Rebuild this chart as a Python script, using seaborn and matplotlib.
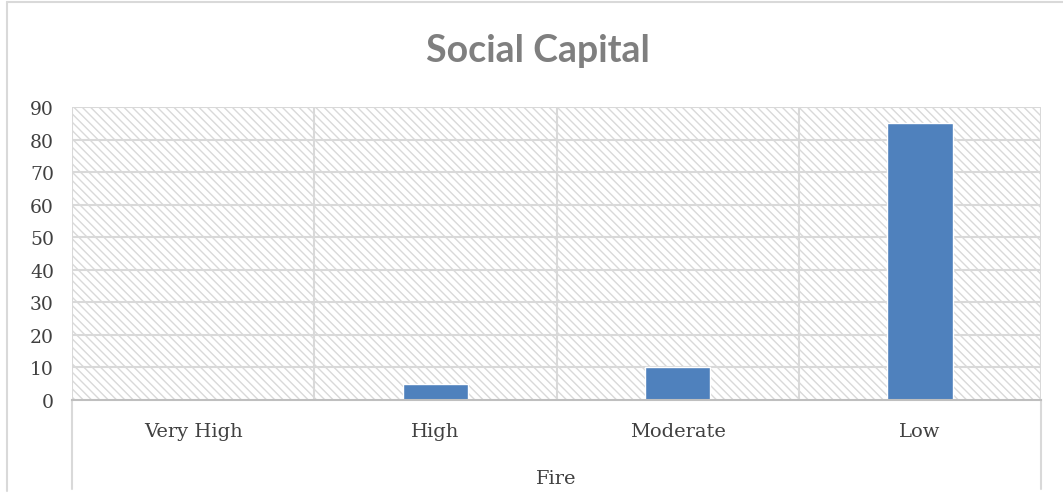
import matplotlib
matplotlib.use("Agg")
import matplotlib.pyplot as plt
from matplotlib.lines import Line2D
import seaborn as sns
import pandas as pd

categories = ["Very High", "High", "Moderate", "Low"]
values = [0, 5, 10, 85]
group_label = "Fire"
title = "Social Capital"
yticks = [0, 10, 20, 30, 40, 50, 60, 70, 80, 90]

sns.set_theme(style="white")
plt.rcParams["hatch.color"] = "#d9d9d9"
plt.rcParams["hatch.linewidth"] = 1.0

df = pd.DataFrame({"cat": categories, "val": values})

fig = plt.figure(figsize=(10.63, 5.02), dpi=100)
ax = fig.add_axes([72/1063, 101/502, (1041-72)/1063, 293/502])

# hatched background
ax.patch.set_facecolor("white")
ax.patch.set_hatch("\\\\\\\\")
ax.patch.set_edgecolor("#d9d9d9")
ax.patch.set_linewidth(0)

sns.barplot(data=df, x="cat", y="val", color="#4f81bd", width=0.27,
            saturation=1, ax=ax, zorder=3)

font = "DejaVu Serif"
ax.set_ylim(0, 90)
ax.set_xlim(-0.5, len(categories) - 0.5)
ax.set_yticks(yticks)
ax.set_yticklabels([str(t) for t in yticks], fontfamily=font,
                   fontsize=13.5, color="#404040")
ax.set_xticks(range(len(categories)))
ax.set_xticklabels(categories, fontfamily=font, fontsize=14,
                   color="#404040")
ax.tick_params(axis="both", length=0)
ax.tick_params(axis="x", pad=16)
ax.tick_params(axis="y", pad=13)
ax.set_xlabel("")
ax.set_ylabel("")

for s in ["left", "top", "right"]:
    ax.spines[s].set_visible(False)
ax.spines["bottom"].set_color("#bfbfbf")
ax.spines["bottom"].set_linewidth(1.5)
ax.spines["bottom"].set_zorder(4)

for t in yticks[1:]:
    ax.axhline(t, color="#d9d9d9", lw=1.5, zorder=1)
for b in [x - 0.5 for x in range(len(categories) + 1)]:
    ax.axvline(b, color="#d9d9d9", lw=1.5, zorder=1)

# multi-level category lines below axis
for b in [-0.5, len(categories) - 0.5]:
    ax.add_line(Line2D([b, b], [0, -0.305], transform=ax.get_xaxis_transform(),
                       color="#d9d9d9", lw=1.5, clip_on=False))

ax.text(0.5, -0.265, group_label, transform=ax.transAxes, ha="center",
        va="center", fontfamily=font, fontsize=14, color="#404040")

fig.text(538/1063, 1 - 62/502, title, ha="center", va="baseline",
         fontfamily="Lato", fontweight="bold", fontsize=27, color="#7f7f7f")

# chart border
fig.add_artist(Line2D([7/1063, 7/1063], [1 - 3/502, 1 - 492/502],
                      transform=fig.transFigure, color="#d9d9d9", lw=1.5))
fig.add_artist(Line2D([7/1063, 1], [1 - 3/502, 1 - 3/502],
                      transform=fig.transFigure, color="#d9d9d9", lw=1.5))

fig.savefig("out.png", dpi=100)
